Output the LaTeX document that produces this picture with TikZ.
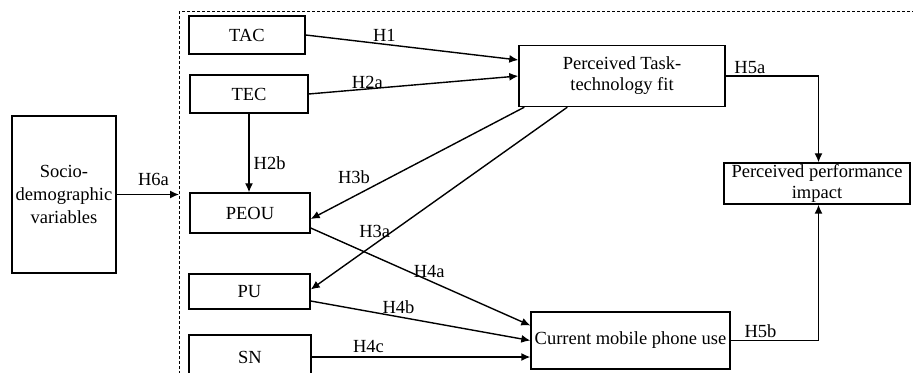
\documentclass[tikz,border=0pt]{standalone}
\usepackage{fontspec}
\setmainfont{Liberation Serif}
\usepackage{tikz}
\usetikzlibrary{arrows.meta}
\tikzset{>={Latex[length=4.5pt,width=4pt]}}
\tikzset{varbox/.style={draw, inner sep=0pt, align=center,
    font=\fontsize{9.25}{10.5}\selectfont}}
\tikzset{hyp/.style={inner sep=1pt, font=\fontsize{9.25}{10.5}\selectfont}}

\begin{document}
\begin{tikzpicture}[x=0.5pt, y=-0.5pt, line width=0.7pt]

                    \useasboundingbox (0,0) rectangle (913,373);

                    % dashed frame round the model
                    \coordinate (frameTR) at (920,12);
                    \coordinate (frameTL) at (179,12);
                    \coordinate (frameBL) at (179,380);
                    \draw[line width=0.5pt, dash pattern=on 1.5pt off 1pt] (frameTR) -- (frameTL) -- (frameBL);

                    \node[varbox, minimum width=52pt, minimum height=78.5pt, font=\fontsize{9.25}{11.5}\selectfont] (SOC) at (64,194.5) {Socio-\\demographic\\variables};
                    \node[varbox, minimum width=58pt, minimum height=19pt] (TAC) at (247,35) {TAC};
                    \node[varbox, minimum width=59pt, minimum height=19pt] (TEC) at (249,94) {TEC};
                    \node[varbox, minimum width=60pt, minimum height=20pt] (PEOU) at (250,213) {PEOU};
                    \node[varbox, minimum width=60.5pt, minimum height=17.5pt] (PU) at (249.5,291.5) {PU};
                    \node[varbox, minimum width=61pt, minimum height=22pt] (SN) at (250,357) {SN};
                    \node[varbox, minimum width=103pt, minimum height=30.5pt] (PTTF) at (622,76) {Perceived Task-\\technology fit};
                    \node[varbox, minimum width=93pt, minimum height=20.5pt] (PPI) at (817,183.5) {Perceived performance\\impact};
                    \node[varbox, minimum width=99.5pt, minimum height=28.5pt] (CMPU) at (630.5,340.5) {Current mobile phone use};

                    \draw[->] (SOC.east) -- (SOC.east -| frameTL) node[pos=0.59, above=3pt, hyp] {H6a};
                    \draw[->] (TAC.east) -- ([yshift=8pt]PTTF.west) node[pos=0.37, above, hyp] {H1};
                    \draw[->] (TEC.east) -- (PTTF.west) node[pos=0.28, above, hyp, inner sep=0pt] {H2a};
                    \draw[->] (TEC.south) -- (TEC.south |- PEOU.north) node[pos=0.63, right=1pt, hyp] {H2b};
                    \draw[->] ([xshift=3pt]PTTF.south west) -- ([yshift=-3pt]PEOU.east) node[pos=0.71, above left, hyp] {H3b};
                    \draw[->] ([xshift=24.5pt]PTTF.south west) -- ([yshift=1pt]PU.east) node[pos=0.68, left, hyp] {H3a};
                    \draw[->] ([yshift=-7.5pt]PEOU.east) -- ([yshift=7.5pt]CMPU.west) node[pos=0.54, above, hyp] {H4a};
                    \draw[->] ([yshift=-4.75pt]PU.east) -- (CMPU.west) node[pos=0.4, above, hyp] {H4b};
                    \draw[->] (SN.east) -- (SN.east -| CMPU.west) node[pos=0.26, above=1pt, hyp] {H4c};
                    \draw[->] (PTTF.east) -| ([xshift=0.75pt]PPI.north) node[pos=0.13, above, hyp] {H5a};
                    \draw[->] (CMPU.east) -| ([xshift=0.75pt]PPI.south) node[pos=0.17, above, hyp] {H5b};

\end{tikzpicture}
\end{document}
